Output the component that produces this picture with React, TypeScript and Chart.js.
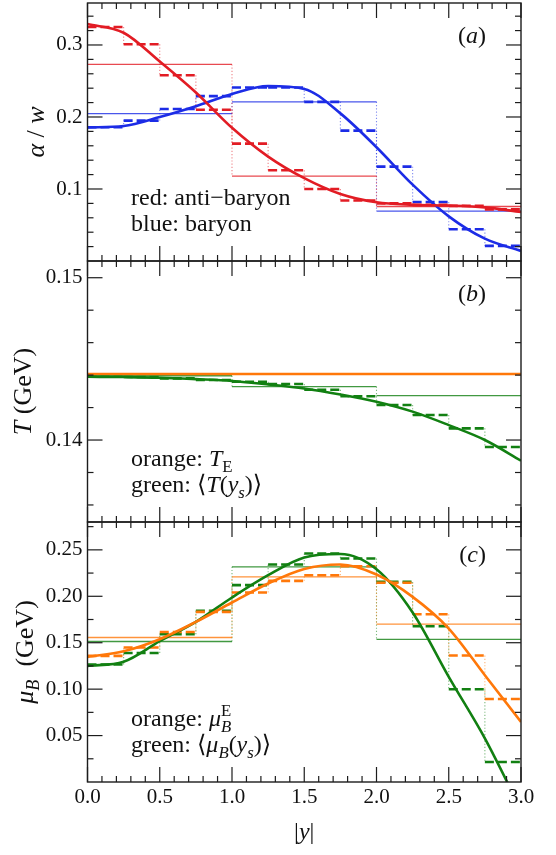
import React, { useEffect, useRef } from "react";
import { Chart, registerables } from "chart.js";

Chart.register(...registerables);

// ---------- shared x data ----------
const FINE_EDGES = [0, 0.25, 0.5, 0.75, 1, 1.25, 1.5, 1.75, 2, 2.25, 2.5, 2.75, 3];
const COARSE_EDGES = [0, 1, 2, 3];
const CURVE_X = [0, 0.25, 0.5, 0.75, 1, 1.25, 1.5, 1.75, 2, 2.25, 2.5, 2.75, 3];
const X_TICKS = [0, 0.5, 1, 1.5, 2, 2.5, 3];
const X_MINOR = [0.1, 0.2, 0.3, 0.4, 0.6, 0.7, 0.8, 0.9, 1.1, 1.2, 1.3, 1.4, 1.6, 1.7, 1.8, 1.9, 2.1, 2.2, 2.3, 2.4, 2.6, 2.7, 2.8, 2.9];

// ---------- panel (a): alpha / w ----------
const A_RED_CURVE = [0.329, 0.317, 0.277, 0.234, 0.185, 0.145, 0.115, 0.093, 0.0815, 0.078, 0.077, 0.0745, 0.068];
const A_RED_FINE = [0.325, 0.301, 0.258, 0.21, 0.163, 0.126, 0.1, 0.084, 0.08, 0.078, 0.0765, 0.0717];
const A_RED_COARSE = [0.273, 0.118, 0.0757];
const A_BLUE_CURVE = [0.1855, 0.1875, 0.2, 0.215, 0.232, 0.243, 0.239, 0.205, 0.158, 0.106, 0.062, 0.031, 0.014];
const A_BLUE_FINE = [0.1857, 0.195, 0.211, 0.229, 0.241, 0.241, 0.221, 0.181, 0.131, 0.082, 0.044, 0.021];
const A_BLUE_COARSE = [0.2046, 0.221, 0.0694];
const A_Y_TICKS = [0.1, 0.2, 0.3];
const A_Y_MINOR = [0.02, 0.04, 0.06, 0.08, 0.12, 0.14, 0.16, 0.18, 0.22, 0.24, 0.26, 0.28, 0.32, 0.34];

// ---------- panel (b): T ----------
const B_ORANGE_CURVE = [0.14407, 0.14407, 0.14407, 0.14407, 0.14407, 0.14407, 0.14407, 0.14407, 0.14407, 0.14407, 0.14407, 0.14407, 0.14407];
const B_GREEN_CURVE = [0.1439, 0.14388, 0.14384, 0.14375, 0.14364, 0.14343, 0.14318, 0.14281, 0.14236, 0.14175, 0.14092, 0.14, 0.13873];
const B_GREEN_FINE = [0.1439, 0.14388, 0.1438, 0.1437, 0.14359, 0.14345, 0.1431, 0.1427, 0.14216, 0.14154, 0.14072, 0.13957];
const B_GREEN_COARSE = [0.14396, 0.14329, 0.14273];
const B_Y_TICKS = [0.14, 0.15];
const B_Y_MINOR = [0.136, 0.138, 0.142, 0.144, 0.146, 0.148];

// ---------- panel (c): mu_B ----------
const C_ORANGE_CURVE = [0.1347, 0.1408, 0.1538, 0.1724, 0.1933, 0.2138, 0.2295, 0.2343, 0.2235, 0.1994, 0.1653, 0.115, 0.0647];
const C_ORANGE_FINE = [0.1358, 0.1448, 0.1616, 0.1832, 0.204, 0.2166, 0.2227, 0.2324, 0.2145, 0.1807, 0.1362, 0.0894];
const C_ORANGE_COARSE = [0.1556, 0.221, 0.17];
const C_GREEN_CURVE = [0.125, 0.1295, 0.1516, 0.1724, 0.1987, 0.2227, 0.2418, 0.2455, 0.229, 0.1825, 0.1132, 0.047, -0.03];
const C_GREEN_FINE = [0.1265, 0.139, 0.1592, 0.1843, 0.212, 0.2343, 0.246, 0.2407, 0.2155, 0.1678, 0.0999, 0.0215];
const C_GREEN_COARSE = [0.1513, 0.2317, 0.1535];
const C_Y_TICKS = [0.05, 0.1, 0.15, 0.2, 0.25];
const C_Y_MINOR = [0.025, 0.075, 0.125, 0.175, 0.225, 0.275];

// ---------- styling ----------
const W = 556;
const H = 855;
const PLOT_LEFT = 87.5;
const PLOT_RIGHT = 521;
const FAMILY = "'Liberation Serif', 'DejaVu Serif', 'Times New Roman', serif";
const RED = [226, 28, 36];
const BLUE = [28, 44, 230];
const ORANGE = [255, 120, 10];
const GREEN = [18, 128, 18];
const rgba = (c: number[], a: number) => `rgba(${c[0]},${c[1]},${c[2]},${a})`;

type Run = { t: string; it?: boolean; sub?: boolean; sup?: boolean; stack?: boolean };

function runFont(r: Run, size: number) {
  const s = r.sub || r.sup ? size * 0.7 : size;
  return `${r.it ? "italic " : ""}${s}px ${FAMILY}`;
}
function measureRuns(ctx: CanvasRenderingContext2D, runs: Run[], size: number) {
  let w = 0;
  let start = 0;
  let lastW = 0;
  for (const r of runs) {
    ctx.font = runFont(r, size);
    const rw = ctx.measureText(r.t).width;
    if (r.stack) {
      lastW = Math.max(lastW, rw);
      w = start + lastW;
    } else {
      start = w;
      w += rw;
      lastW = rw;
    }
  }
  return w;
}
function drawRuns(ctx: CanvasRenderingContext2D, runs: Run[], x: number, y: number, size: number) {
  let cx = x;
  let start = x;
  let lastW = 0;
  for (const r of runs) {
    ctx.font = runFont(r, size);
    const rw = ctx.measureText(r.t).width;
    const dy = r.sub ? 0.24 * size : r.sup ? -0.42 * size : 0;
    if (r.stack) {
      ctx.fillText(r.t, start, y + dy);
      lastW = Math.max(lastW, rw);
      cx = start + lastW;
    } else {
      start = cx;
      ctx.fillText(r.t, cx, y + dy);
      cx += rw;
      lastW = rw;
    }
  }
}

function horizPoints(edges: number[], vals: number[]) {
  const pts: any[] = [];
  vals.forEach((v, i) => {
    pts.push({ x: edges[i], y: v }, { x: edges[i + 1], y: v }, { x: edges[i + 1], y: null });
  });
  return pts;
}
function vertPoints(edges: number[], vals: number[]) {
  const pts: any[] = [];
  for (let i = 1; i < vals.length; i++) {
    pts.push({ x: edges[i], y: vals[i - 1] }, { x: edges[i], y: vals[i] }, { x: edges[i], y: null });
  }
  return pts;
}
function curvePoints(xs: number[], ys: number[]) {
  return xs.map((x, i) => ({ x, y: ys[i] }));
}

function seriesDatasets(color: number[], curve: number[] | null, fine: number[] | null, coarse: number[] | null) {
  const ds: any[] = [];
  if (coarse) {
    ds.push({ data: horizPoints(COARSE_EDGES, coarse), borderColor: rgba(color, 0.8), borderWidth: 1.3, order: 5, tension: 0 });
    ds.push({ data: vertPoints(COARSE_EDGES, coarse), borderColor: rgba(color, 0.55), borderWidth: 1.1, borderDash: [1.2, 2], order: 5, tension: 0 });
  }
  if (fine) {
    ds.push({ data: horizPoints(FINE_EDGES, fine), borderColor: rgba(color, 1), borderWidth: 2.6, borderDash: [9, 4], borderCapStyle: "butt", order: 3, tension: 0 });
    ds.push({ data: vertPoints(FINE_EDGES, fine), borderColor: rgba(color, 0.55), borderWidth: 1.1, borderDash: [1.2, 2], order: 4, tension: 0 });
  }
  if (curve) {
    ds.push({ data: curvePoints(CURVE_X, curve), borderColor: rgba(color, 1), borderWidth: 2.6, cubicInterpolationMode: "monotone", order: 1 });
  }
  return ds;
}

type Panel = {
  top: number;
  bottom: number;
  yMin: number;
  yMax: number;
  yTicks: number[];
  yMinor: number[];
  dec: number;
  titleX: number;
  title: Run[];
  letter: string;
  notes: Run[][];
  datasets: any[];
  showX: boolean;
};

const PANELS: Panel[] = [
  {
    top: 3,
    bottom: 261,
    yMin: 0,
    yMax: 0.3583,
    yTicks: A_Y_TICKS,
    yMinor: A_Y_MINOR,
    dec: 1,
    titleX: 44,
    title: [{ t: "α", it: true }, { t: " / " }, { t: "w", it: true }],
    letter: "a",
    notes: [[{ t: "red: anti−baryon" }], [{ t: "blue: baryon" }]],
    datasets: [
      ...seriesDatasets(RED, A_RED_CURVE, A_RED_FINE, A_RED_COARSE),
      ...seriesDatasets(BLUE, A_BLUE_CURVE, A_BLUE_FINE, A_BLUE_COARSE),
    ],
    showX: false,
  },
  {
    top: 261,
    bottom: 522,
    yMin: 0.13495,
    yMax: 0.15103,
    yTicks: B_Y_TICKS,
    yMinor: B_Y_MINOR,
    dec: 2,
    titleX: 31,
    title: [{ t: "T", it: true }, { t: " (GeV)" }],
    letter: "b",
    notes: [
      [{ t: "orange: " }, { t: "T", it: true }, { t: "E", sub: true }],
      [{ t: "green: ⟨" }, { t: "T", it: true }, { t: "(" }, { t: "y", it: true }, { t: "s", it: true, sub: true }, { t: ")⟩" }],
    ],
    datasets: [
      ...seriesDatasets(GREEN, B_GREEN_CURVE, B_GREEN_FINE, B_GREEN_COARSE),
      ...seriesDatasets(ORANGE, B_ORANGE_CURVE, null, null),
    ],
    showX: false,
  },
  {
    top: 522,
    bottom: 782,
    yMin: 0,
    yMax: 0.28,
    yTicks: C_Y_TICKS,
    yMinor: C_Y_MINOR,
    dec: 2,
    titleX: 33,
    title: [{ t: "μ", it: true }, { t: "B", it: true, sub: true }, { t: "  (GeV)" }],
    letter: "c",
    notes: [
      [{ t: "orange: " }, { t: "μ", it: true }, { t: "B", it: true, sub: true }, { t: "E", sup: true, stack: true }],
      [{ t: "green: ⟨" }, { t: "μ", it: true }, { t: "B", it: true, sub: true }, { t: "(" }, { t: "y", it: true }, { t: "s", it: true, sub: true }, { t: ")⟩" }],
    ],
    datasets: [
      ...seriesDatasets(ORANGE, C_ORANGE_CURVE, C_ORANGE_FINE, C_ORANGE_COARSE),
      ...seriesDatasets(GREEN, C_GREEN_CURVE, C_GREEN_FINE, C_GREEN_COARSE),
    ],
    showX: true,
  },
];

const X_AXIS_H = 40;
const TITLE_SIZE = 26;
const NOTE_SIZE = 24;

function makeDecor(p: Panel) {
  return {
    id: "decor",
    afterDatasetsDraw(chart: any) {
      const ctx: CanvasRenderingContext2D = chart.ctx;
      const a = chart.chartArea;
      const xs = chart.scales.x;
      const ys = chart.scales.y;
      ctx.save();
      ctx.strokeStyle = "#1c1c1c";
      ctx.lineWidth = 1.2;
      ctx.setLineDash([]);
      const seg = (x1: number, y1: number, x2: number, y2: number) => {
        ctx.beginPath();
        ctx.moveTo(x1, y1);
        ctx.lineTo(x2, y2);
        ctx.stroke();
      };
      const MAJ = 15;
      const MIN = 6;
      X_TICKS.forEach((v) => {
        const px = xs.getPixelForValue(v);
        seg(px, a.bottom, px, a.bottom - MAJ);
        seg(px, a.top, px, a.top + MAJ);
      });
      X_MINOR.forEach((v) => {
        const px = xs.getPixelForValue(v);
        seg(px, a.bottom, px, a.bottom - MIN);
        seg(px, a.top, px, a.top + MIN);
      });
      p.yTicks.forEach((v) => {
        const py = ys.getPixelForValue(v);
        seg(a.left, py, a.left + MAJ, py);
        seg(a.right, py, a.right - MAJ, py);
      });
      p.yMinor.forEach((v) => {
        const py = ys.getPixelForValue(v);
        seg(a.left, py, a.left + MIN, py);
        seg(a.right, py, a.right - MIN, py);
      });
      ctx.lineWidth = 1.4;
      ctx.strokeRect(a.left, a.top, a.right - a.left, a.bottom - a.top);

      ctx.fillStyle = "#111";
      ctx.textBaseline = "alphabetic";
      ctx.textAlign = "left";
      // panel letter
      const letterRuns: Run[] = [{ t: "(" }, { t: p.letter, it: true }, { t: ")" }];
      const lw = measureRuns(ctx, letterRuns, 24);
      drawRuns(ctx, letterRuns, a.right - 35 - lw, a.top + 40, 24);
      // notes
      drawRuns(ctx, p.notes[0], 131, a.bottom - 56, NOTE_SIZE);
      drawRuns(ctx, p.notes[1], 131, a.bottom - 30, NOTE_SIZE);
      // y title (titleX = baseline position)
      const tw = measureRuns(ctx, p.title, TITLE_SIZE);
      ctx.save();
      ctx.translate(p.titleX, (a.top + a.bottom) / 2);
      ctx.rotate(-Math.PI / 2);
      drawRuns(ctx, p.title, -tw / 2, 0, TITLE_SIZE);
      ctx.restore();
      // x title
      if (p.showX) {
        const xr: Run[] = [{ t: "|" }, { t: "y", it: true }, { t: "|" }];
        const xw = measureRuns(ctx, xr, 24);
        drawRuns(ctx, xr, (a.left + a.right) / 2 - xw / 2, a.bottom + 57, 24);
      }
      ctx.restore();
    },
  };
}

function PanelChart({ p }: { p: Panel }) {
  const ref = useRef<HTMLCanvasElement | null>(null);
  useEffect(() => {
    if (!ref.current) return;
    const tickFont = { family: FAMILY, size: 21, lineHeight: 1.2 };
    const chart = new Chart(ref.current, {
      type: "line",
      data: { datasets: p.datasets.map((d) => ({ ...d, pointRadius: 0, spanGaps: false, fill: false })) },
      options: {
        responsive: false,
        animation: false,
        events: [],
        layout: {
          padding: {
            left: 0,
            right: W - PLOT_RIGHT,
            top: p.top,
            bottom: p.showX ? H - p.bottom - X_AXIS_H : H - p.bottom,
          },
        },
        plugins: { legend: { display: false }, tooltip: { enabled: false } },
        scales: {
          x: {
            type: "linear",
            min: 0,
            max: 3,
            display: p.showX,
            position: "bottom",
            afterFit: (s: any) => {
              s.height = p.showX ? X_AXIS_H : 0;
              s.paddingLeft = 0;
              s.paddingRight = 0;
            },
            afterBuildTicks: (s: any) => {
              s.ticks = X_TICKS.map((v) => ({ value: v }));
            },
            ticks: {
              callback: (v: any) => Number(v).toFixed(1),
              font: tickFont,
              color: "#111",
              padding: 3,
              autoSkip: false,
              maxRotation: 0,
            },
            grid: { display: false, drawTicks: false, tickLength: 0 },
            border: { display: false },
          },
          y: {
            type: "linear",
            min: p.yMin,
            max: p.yMax,
            position: "left",
            afterFit: (s: any) => {
              s.width = PLOT_LEFT;
              s.paddingTop = 0;
              s.paddingBottom = 0;
            },
            afterBuildTicks: (s: any) => {
              s.ticks = p.yTicks.map((v) => ({ value: v }));
            },
            ticks: {
              callback: (v: any) => Number(v).toFixed(p.dec),
              font: tickFont,
              color: "#111",
              padding: 5,
              autoSkip: false,
            },
            grid: { display: false, drawTicks: false, tickLength: 0 },
            border: { display: false },
          },
        },
      } as any,
      plugins: [makeDecor(p)],
    });
    return () => chart.destroy();
  }, [p]);
  return <canvas ref={ref} width={W} height={H} style={{ position: "absolute", left: 0, top: 0 }} />;
}

export default function App() {
  return (
    <div style={{ position: "absolute", left: 0, top: 0, width: W, height: H, background: "#fff" }}>
      {PANELS.map((p, i) => (
        <PanelChart key={i} p={p} />
      ))}
    </div>
  );
}
